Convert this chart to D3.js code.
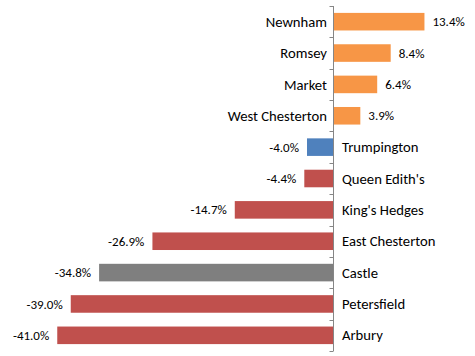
<!DOCTYPE html>
<html><head><meta charset="utf-8">
<script src="https://cdn.jsdelivr.net/npm/d3@7"></script>
<style>
html,body{margin:0;padding:0;background:#fff;}
svg{display:block;}
text{font-family:Carlito,"Liberation Sans",Arial,sans-serif;fill:#000;}
</style></head>
<body>
<script>
const categories = ["Newnham","Romsey","Market","West Chesterton","Trumpington","Queen Edith's","King's Hedges","East Chesterton","Castle","Petersfield","Arbury"];
const values = [13.4, 8.4, 6.4, 3.9, -4.0, -4.4, -14.7, -26.9, -34.8, -39.0, -41.0];
const colors = ["#F79646","#F79646","#F79646","#F79646","#4F81BD","#C0504D","#C0504D","#C0504D","#7F7F7F","#C0504D","#C0504D"];
const xDomain = [-45, 15];

const W = 475, H = 356;
const svg = d3.select("body").append("svg").attr("width", W).attr("height", H);

const x = d3.scaleLinear().domain(xDomain).range([30.25, 435.25]);
const y = d3.scaleBand().domain(categories).range([6, 351]).paddingInner(0.44).paddingOuter(0.22);

const data = categories.map((c, i) => ({c, v: values[i], col: colors[i]}));

svg.selectAll("rect.bar").data(data).enter().append("rect")
  .attr("class", "bar")
  .attr("x", d => x(Math.min(0, d.v)))
  .attr("width", d => Math.abs(x(d.v) - x(0)))
  .attr("y", d => y(d.c))
  .attr("height", y.bandwidth())
  .attr("fill", d => d.col);

// category axis
const x0 = Math.round(x(0)) - 0.5;
const ax = svg.append("g").attr("transform", `translate(${x0},0)`);
ax.append("line").attr("x1", 0).attr("x2", 0).attr("y1", 6).attr("y2", 351).attr("stroke", "#868686");
const tickYs = d3.range(categories.length + 1).map(i => 6 + i * (345 / categories.length));
ax.selectAll("line.tk").data(tickYs).enter().append("line")
  .attr("x1", -4).attr("x2", 0)
  .attr("y1", d => Math.round(d) + 0.5).attr("y2", d => Math.round(d) + 0.5)
  .attr("stroke", "#868686");

// category labels
svg.selectAll("text.cat").data(data).enter().append("text")
  .attr("class", "cat")
  .attr("x", d => d.v >= 0 ? x(0) - 7 : x(0) + 8)
  .attr("y", d => y(d.c) + y.bandwidth() / 2)
  .attr("dy", "0.35em")
  .attr("text-anchor", d => d.v >= 0 ? "end" : "start")
  .style("font-size", "14.67px")
  .text(d => d.c);

// value labels
svg.selectAll("text.val").data(data).enter().append("text")
  .attr("class", "val")
  .attr("x", d => d.v >= 0 ? x(d.v) + 8 : x(d.v) - 8)
  .attr("y", d => y(d.c) + y.bandwidth() / 2)
  .attr("dy", "0.35em")
  .attr("text-anchor", d => d.v >= 0 ? "start" : "end")
  .style("font-size", "13px")
  .text(d => d.v.toFixed(1) + "%");
</script>
</body></html>
